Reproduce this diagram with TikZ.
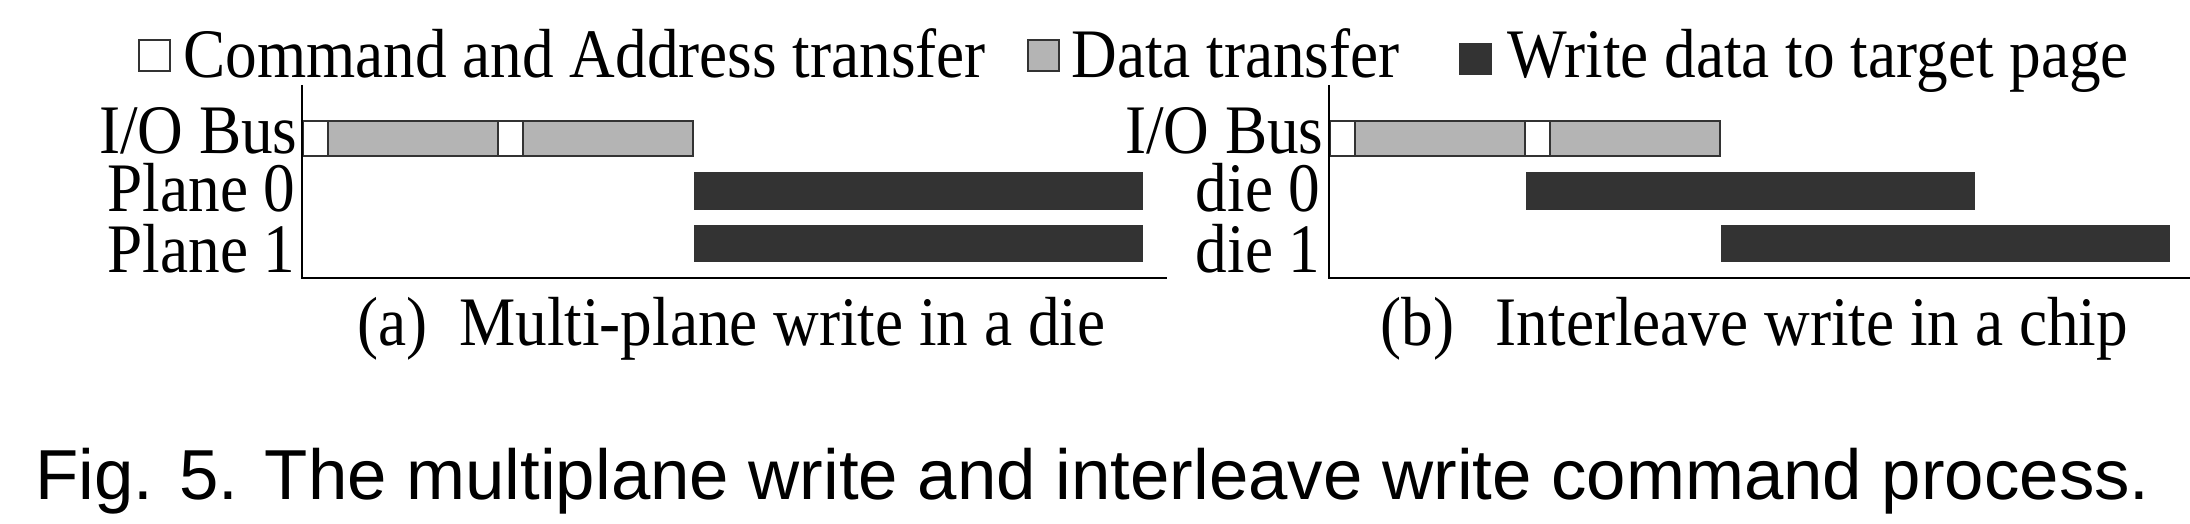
\documentclass[tikz,border=0pt]{standalone}
\usepackage{fontspec}
\setmainfont{Liberation Serif}[FakeStretch=0.91]
\newfontfamily\capfont{Liberation Sans}
\usetikzlibrary{positioning}
\definecolor{bargray}{HTML}{B4B4B4}
\definecolor{bardark}{HTML}{333333}
\tikzset{
    cmdbox/.style = {rectangle,draw=bardark,fill=white,line width=0.8pt,minimum height=17.5pt,inner sep=0pt,anchor=west},
    databox/.style = {cmdbox,fill=bargray},
    writebox/.style = {cmdbox,fill=bardark,minimum height=18pt},
    legbox/.style = {rectangle,draw=bardark,line width=0.8pt,minimum size=15.5pt,inner sep=0pt},
    rowlabel/.style = {anchor=base east,inner sep=0pt,text height=22pt,text depth=0pt,font=\fontsize{34.75}{40}\selectfont},
    plaintext/.style = {anchor=base west,inner sep=0pt,font=\fontsize{34.75}{40}\selectfont},
    axis/.style = {line width=1pt}}

\begin{document}
\begin{tikzpicture}[x=0.5pt,y=-0.5pt]
        \useasboundingbox (0,0) rectangle (2190,524);
        % legend
        \node[legbox,fill=white] (lcmd) at (154.5,55.5) {};
        \node[plaintext] (lcmdtxt) at (183,78) {Command and Address transfer};
        \node[legbox,fill=bargray] (ldata) at (1043.5,55.5) {};
        \node[plaintext] (ldatatxt) at (1071,78) {Data transfer};
        \node[legbox,fill=bardark] (lwrite) at (1475.5,59) {};
        \node[plaintext] (lwritetxt) at (1507,78) {Write data to target page};
        % (a) multi-plane write
        \path (302,138.5) node[cmdbox,minimum width=12.5pt] (acmd1) {}
        ++ (25,0) node[databox,minimum width=85pt] (adata1) {}
        ++ (170,0) node[cmdbox,minimum width=12.5pt] (acmd2) {}
        ++ (25,0) node[databox,minimum width=85pt] (adata2) {};
        \path (adata2.east |- 0,191) node[writebox,minimum width=224pt] (aplane0) {}
        ++ (0,52.5) node[writebox,minimum width=224pt] (aplane1) {};
        \coordinate (atop) at (302,85);
        \coordinate (aorig) at (302,278);
        \coordinate (aend) at (1167,278);
        \draw[axis] (atop) -- (aorig) -- (aend);
        \node[rowlabel] (aiolbl) at (298,154) {I/O Bus};
        \node[rowlabel] (ap0lbl) at (296,211) {Plane 0};
        \node[rowlabel] (ap1lbl) at (296,272) {Plane 1};
        \node[plaintext] (acap) at (357,345) {(a)\ \ Multi-plane write in a die};
        % (b) interleave write
        \path (1329,138.5) node[cmdbox,minimum width=12.5pt] (bcmd1) {}
        ++ (25,0) node[databox,minimum width=85pt] (bdata1) {}
        ++ (170,0) node[cmdbox,minimum width=12.5pt] (bcmd2) {}
        ++ (25,0) node[databox,minimum width=85pt] (bdata2) {};
        \path (bdata1.east |- 0,191) node[writebox,minimum width=224pt] (bdie0) {};
        \path (bdata2.east |- 0,243.5) node[writebox,minimum width=224pt] (bdie1) {};
        \coordinate (btop) at (1329,85);
        \coordinate (borig) at (1329,278);
        \coordinate (bend) at (2190,278);
        \draw[axis] (btop) -- (borig) -- (bend);
        \node[rowlabel] (biolbl) at (1324,154) {I/O Bus};
        \node[rowlabel] (bd0lbl) at (1321,211) {die 0};
        \node[rowlabel] (bd1lbl) at (1321,272) {die 1};
        \node[plaintext] (bcap) at (1380,345) {(b)\ \ \kern5pt Interleave write in a chip};
        % figure caption
        \node[anchor=base west,inner sep=0pt,font=\capfont\fontsize{35.4}{40}\selectfont] (figcap) at (35,499) {Fig. 5. The multiplane write and interleave write command process.};
\end{tikzpicture}
\end{document}
